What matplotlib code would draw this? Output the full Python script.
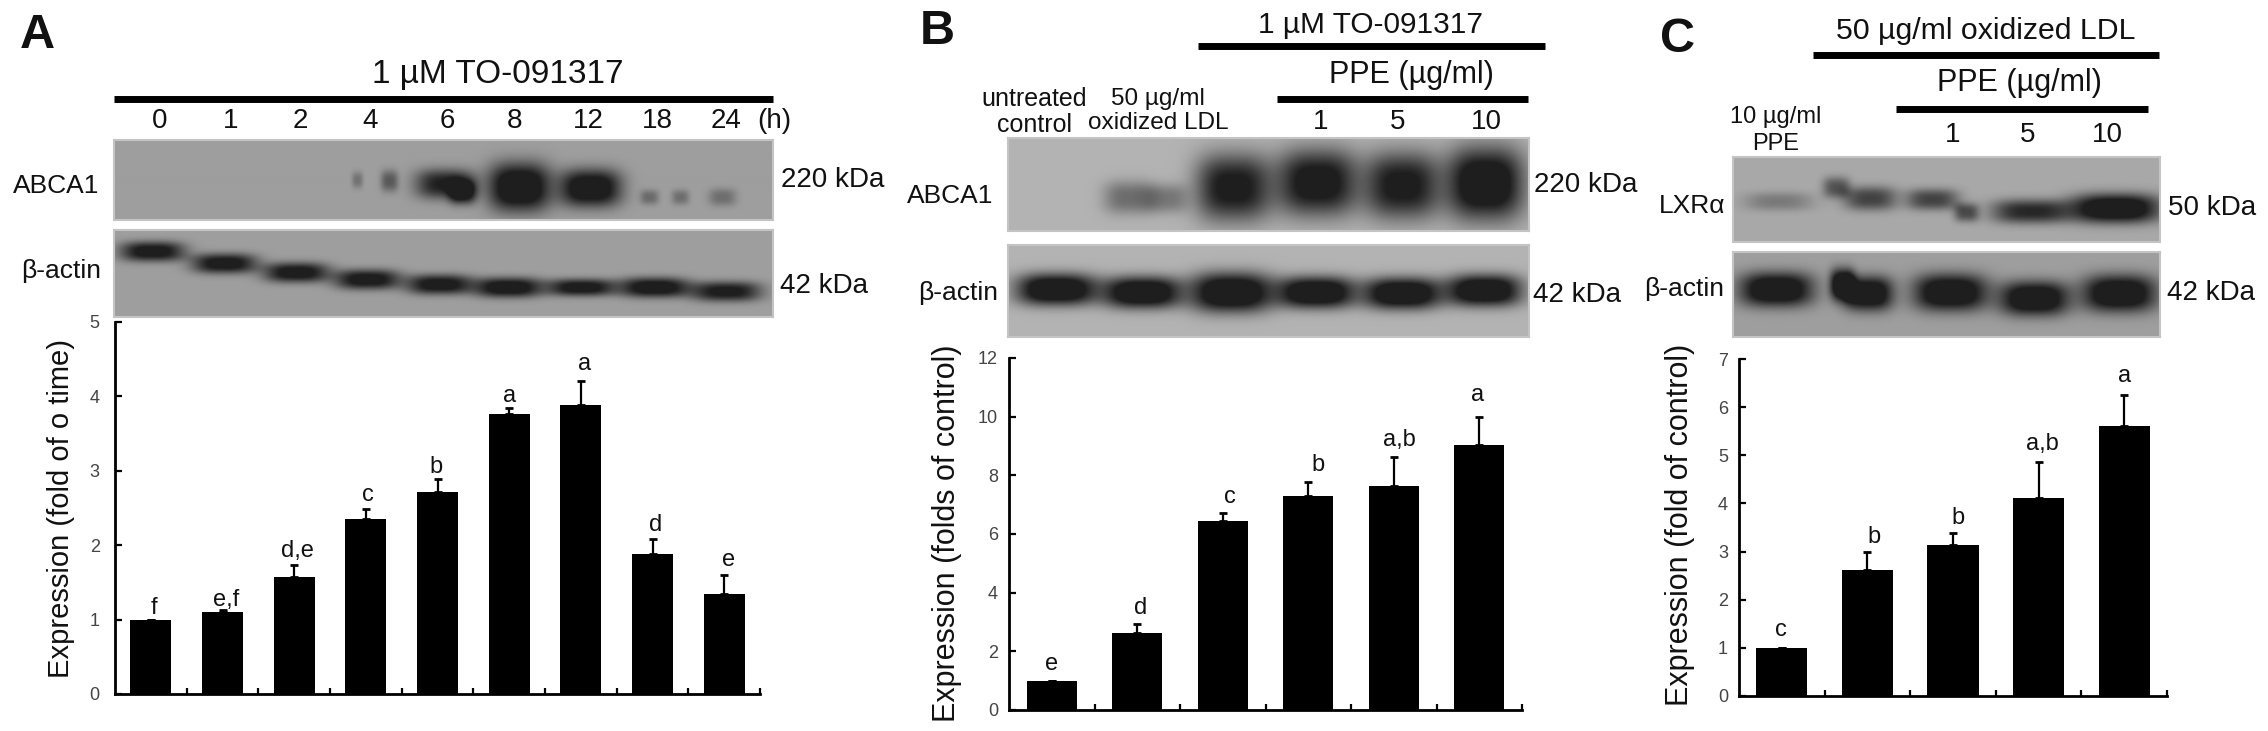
import numpy as np
import matplotlib
matplotlib.use('Agg')
import matplotlib.pyplot as plt
from matplotlib.lines import Line2D

plt.rcParams['font.family'] = ['Liberation Sans', 'DejaVu Sans']

W, H = 2268, 731

# panel A
a_values = [1.0, 1.1, 1.57, 2.35, 2.72, 3.76, 3.88, 1.88, 1.35]
a_errors = [0.0, 0.03, 0.17, 0.14, 0.17, 0.09, 0.33, 0.21, 0.25]
a_letters = ['f', 'e,f', 'd,e', 'c', 'b', 'a', 'a', 'd', 'e']
a_letter_y = [1.16, 1.26, 1.92, 2.67, 3.05, 4.0, 4.44, 2.27, 1.8]
a_letter_dx = [0.05, 0.05, 0.04, 0.03, -0.02, 0.0, 0.05, 0.04, 0.06]
a_hours = ['0', '1', '2', '4', '6', '8', '12', '18', '24']
a_hour_x = [160, 231, 300, 370, 447, 515, 588, 657, 726]

# panel B
b_values = [1.0, 2.64, 6.43, 7.3, 7.62, 9.04]
b_errors = [0.0, 0.29, 0.3, 0.47, 1.01, 0.95]
b_letters = ['e', 'd', 'c', 'b', 'a,b', 'a']
b_letter_y = [1.56, 3.49, 7.25, 8.36, 9.2, 10.73]
b_letter_dx = [0.0, 0.04, 0.08, 0.11, 0.06, -0.02]

# panel C
c_values = [1.0, 2.62, 3.14, 4.11, 5.6]
c_errors = [0.0, 0.37, 0.24, 0.75, 0.66]
c_letters = ['c', 'b', 'b', 'a,b', 'a']
c_letter_y = [1.37, 3.31, 3.69, 5.24, 6.64]
c_letter_dx = [-0.01, 0.08, 0.06, 0.04, 0.0]

# blot bands as (x, y, width, height, darkness) in image pixels
a_abca1 = [(357, 180, 9, 12, .25), (389, 181, 14, 16, .4), (445, 184, 48, 22, .75), (462, 192, 22, 18, .7),
           (519, 187, 50, 36, 1.0), (590, 188, 50, 28, .95), (649, 197, 15, 11, .3), (680, 197, 14, 11, .28),
           (722, 197, 22, 13, .28)]
a_actin = [(152, 251, 52, 15, .85), (224, 263, 52, 15, .85), (296, 272, 52, 15, .85), (367, 279, 52, 15, .85),
           (439, 284, 52, 15, .85), (508, 287, 54, 15, .9), (581, 287, 54, 13, .85), (654, 287, 55, 15, .9),
           (726, 291, 56, 15, .8)]
b_abca1 = [(1128, 197, 40, 25, .35), (1165, 198, 35, 22, .3), (1233, 187, 60, 50, .8), (1317, 182, 65, 50, .85),
           (1402, 185, 60, 50, .8), (1485, 183, 62, 55, .95)]
b_actin = [(1056, 289, 65, 24, 1.0), (1142, 292, 62, 24, 1.0), (1231, 292, 66, 30, 1.0), (1316, 292, 62, 24, 1.0),
           (1402, 293, 62, 24, 1.0), (1484, 290, 60, 24, 1.0)]
c_lxr = [(1778, 201, 55, 14, .25), (1836, 187, 22, 16, .45), (1870, 198, 42, 18, .55), (1932, 199, 42, 16, .55),
         (1966, 212, 20, 14, .5), (2030, 211, 62, 18, .7), (2115, 208, 72, 22, 1.0)]
c_actin = [(1776, 289, 60, 26, 1.0), (1842, 284, 20, 24, 1.0), (1868, 293, 40, 26, 1.0), (1950, 292, 60, 28, 1.0),
           (2034, 298, 56, 26, 1.0), (2119, 293, 60, 28, 1.0)]


def px_axes(fig, x0, y0, x1, y1):
    return fig.add_axes([x0 / W, 1 - y1 / H, (x1 - x0) / W, (y1 - y0) / H])


def label(fig, x, y, s, size, ha='center', **kw):
    fig.text(x / W, 1 - y / H, s, fontsize=size, ha=ha, va='center', color='#111111', **kw)


def rule(fig, x0, x1, y):
    fig.add_artist(Line2D([x0 / W, x1 / W], [1 - y / H, 1 - y / H], color='black', lw=5, solid_capstyle='butt'))


def blot(fig, x0, y0, x1, y1, bands, bg):
    """ Draw a gel strip as a grey image with soft dark bands. """
    ax = px_axes(fig, x0, y0, x1, y1)
    xx, yy = np.meshgrid(np.arange(x0, x1), np.arange(y0, y1))
    dark = np.zeros(xx.shape)
    for bx, by, bw, bh, d in bands:
        dark += d * np.exp(-np.abs((xx - bx) / (0.62 * bw)) ** 3 - np.abs((yy - by) / (0.66 * bh)) ** 2.6)
    img = bg - (bg - 0.12) * np.clip(1.35 * dark, 0, 1)
    ax.imshow(img, cmap='gray', vmin=0, vmax=1, aspect='auto', interpolation='bilinear')
    ax.set_xticks([])
    ax.set_yticks([])
    for s in ax.spines.values():
        s.set_color('#c4c4c4')
        s.set_linewidth(1.5)


def bars(fig, box, values, errors, letters, letter_y, letter_dx, ymax, yticks, ylab, lab_x, lab_y, lab_size, width,
         tick_pad=8):
    ax = px_axes(fig, *box)
    x = np.arange(len(values)) + 0.5
    ax.bar(x, values, width=width, color='black')
    ax.errorbar(x, values, yerr=[np.zeros(len(errors)), errors], fmt='none', ecolor='black',
                elinewidth=1.6, capsize=3, capthick=2)
    for xi, s, ly, dx in zip(x, letters, letter_y, letter_dx):
        ax.text(xi + dx, ly, s, ha='center', va='center', fontsize=17, color='#111111')
    ax.set_xlim(0, len(values))
    ax.set_ylim(0, ymax)
    ax.set_xticks(np.arange(1, len(values) + 1))
    ax.set_xticklabels([])
    ax.set_yticks(yticks)
    ax.tick_params(axis='x', direction='in', length=4, width=1.6)
    ax.tick_params(axis='y', direction='in', length=5, width=1.6, labelsize=13, labelcolor='#444444', pad=tick_pad)
    ax.spines['top'].set_visible(False)
    ax.spines['right'].set_visible(False)
    ax.spines['left'].set_linewidth(2)
    ax.spines['bottom'].set_linewidth(2)
    fig.text(lab_x / W, 1 - lab_y / H, ylab, rotation=90, fontsize=lab_size, ha='center', va='center', color='#111111')


fig = plt.figure(figsize=(W / 100, H / 100), dpi=100)

# panel A
label(fig, 37, 36, 'A', 35, weight='bold')
label(fig, 498, 75, '1 µM TO-091317', 24)
rule(fig, 114, 773, 99)
for hx, h in zip(a_hour_x, a_hours):
    label(fig, hx, 121, h, 20)
label(fig, 774, 121, '(h)', 20)
blot(fig, 114, 140, 773, 220, a_abca1, 0.62)
blot(fig, 114, 230, 773, 317, a_actin, 0.62)
label(fig, 13, 186, 'ABCA1', 19, ha='left')
label(fig, 21, 271, 'β-actin', 19, ha='left')
label(fig, 781, 180, '220 kDa', 20, ha='left')
label(fig, 780, 286, '42 kDa', 20, ha='left')
bars(fig, (115, 322, 760, 694), a_values, a_errors, a_letters, a_letter_y, a_letter_dx,
     5, range(6), 'Expression (fold of o time)', 61, 508, 21, 0.57, tick_pad=11)

# panel B
label(fig, 937, 31, 'B', 35, weight='bold')
label(fig, 1370, 25, '1 µM TO-091317', 21.5)
rule(fig, 1198, 1545, 46)
label(fig, 1411, 75, 'PPE (µg/ml)', 22)
rule(fig, 1277, 1528, 99)
label(fig, 1034, 99, 'untreated', 18)
label(fig, 1034, 125, 'control', 18)
label(fig, 1158, 99, '50 µg/ml', 17.6)
label(fig, 1158, 123, 'oxidized LDL', 17.6)
for lx, s in zip([1321, 1398, 1486], ['1', '5', '10']):
    label(fig, lx, 122, s, 20)
blot(fig, 1008, 138, 1529, 231, b_abca1, 0.7)
blot(fig, 1008, 245, 1529, 337, b_actin, 0.7)
label(fig, 907, 196, 'ABCA1', 19, ha='left')
label(fig, 918, 293, 'β-actin', 19, ha='left')
label(fig, 1534, 185, '220 kDa', 20, ha='left')
label(fig, 1533, 295, '42 kDa', 20, ha='left')
bars(fig, (1009, 358, 1522, 710), b_values, b_errors, b_letters, b_letter_y, b_letter_dx,
     12, range(0, 13, 2), 'Expression (folds of control)', 947, 533, 22, 0.58)

# panel C
label(fig, 1678, 40, 'C', 35, weight='bold')
label(fig, 1986, 31, '50 µg/ml oxidized LDL', 21.8)
rule(fig, 1813, 2159, 55)
label(fig, 2019, 83, 'PPE (µg/ml)', 22)
rule(fig, 1896, 2148, 109)
label(fig, 1776, 117, '10 µg/ml', 17)
label(fig, 1776, 144, 'PPE', 17)
for lx, s in zip([1953, 2028, 2107], ['1', '5', '10']):
    label(fig, lx, 135, s, 20)
blot(fig, 1733, 157, 2160, 242, c_lxr, 0.66)
blot(fig, 1733, 252, 2160, 337, c_actin, 0.62)
label(fig, 1659, 206, 'LXRα', 19, ha='left')
label(fig, 1644, 289, 'β-actin', 19, ha='left')
label(fig, 2168, 208, '50 kDa', 20, ha='left')
label(fig, 2167, 293, '42 kDa', 20, ha='left')
bars(fig, (1739, 359, 2167, 696), c_values, c_errors, c_letters, c_letter_y, c_letter_dx,
     7, range(8), 'Expression (fold of control)', 1680, 525, 22, 0.6)

fig.savefig('out.png', dpi=100)
